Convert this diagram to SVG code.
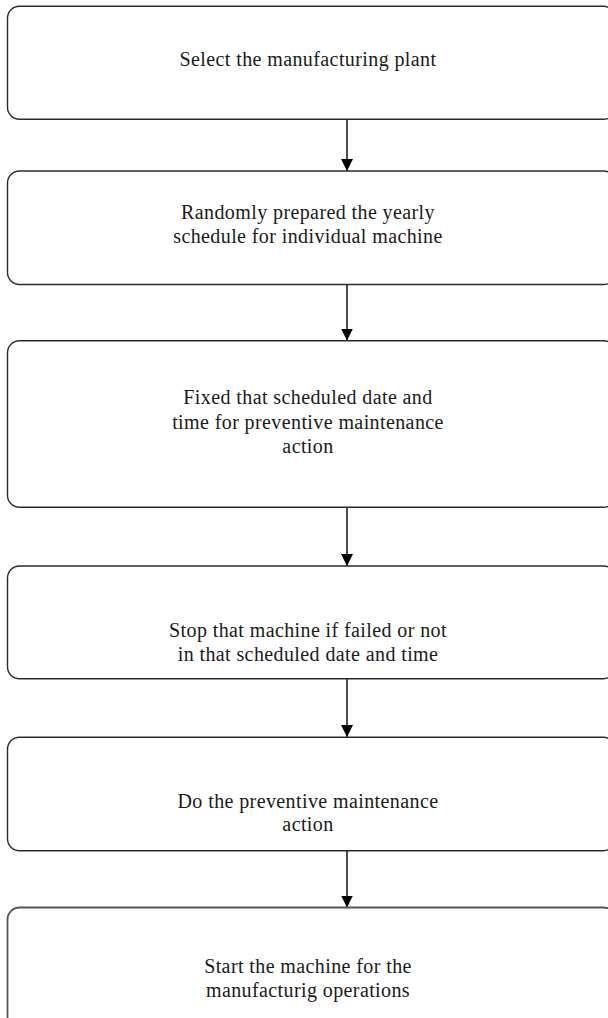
<svg xmlns="http://www.w3.org/2000/svg" width="608" height="1018" viewBox="0 0 608 1018">
  <style>
    .box { fill: #ffffff; stroke: #2b2b2b; stroke-width: 1.4; }
    .lbl { font-family: "Liberation Serif", "Times New Roman", serif; font-size: 20px; letter-spacing: 0.4px; fill: #1a1a1a; text-anchor: middle; }
    .conn { stroke: #000000; stroke-width: 1.4; fill: none; }
  </style>
  <defs>
    <marker id="arrow" markerUnits="userSpaceOnUse" markerWidth="14" markerHeight="12" refX="12" refY="6" orient="auto">
      <path d="M0,0 L12,6 L0,12 Z" fill="#000000"/>
    </marker>
  </defs>
  <rect width="608" height="1018" fill="#ffffff"/>

  <g id="connectors">
    <line class="conn" x1="347" y1="119.5" x2="347" y2="171" marker-end="url(#arrow)"/>
    <line class="conn" x1="347" y1="284.5" x2="347" y2="340.5" marker-end="url(#arrow)"/>
    <line class="conn" x1="347" y1="507.5" x2="347" y2="566" marker-end="url(#arrow)"/>
    <line class="conn" x1="347" y1="679" x2="347" y2="737" marker-end="url(#arrow)"/>
    <line class="conn" x1="347" y1="851" x2="347" y2="907.5" marker-end="url(#arrow)"/>
  </g>

  <g id="node-select-plant">
    <rect class="box" x="7.5" y="6.3" width="608" height="113" rx="12" ry="12"/>
    <text class="lbl" x="308" y="66">Select the manufacturing plant</text>
  </g>

  <g id="node-yearly-schedule">
    <rect class="box" x="7.5" y="171" width="608" height="113.5" rx="12" ry="12"/>
    <text class="lbl" x="308" y="219">Randomly prepared the yearly</text>
    <text class="lbl" x="308" y="243">schedule for individual machine</text>
  </g>

  <g id="node-fix-date">
    <rect class="box" x="7.5" y="340.7" width="608" height="166.6" rx="12" ry="12"/>
    <text class="lbl" x="308" y="404">Fixed that scheduled date and</text>
    <text class="lbl" x="308" y="428.5">time for preventive maintenance</text>
    <text class="lbl" x="308" y="453">action</text>
  </g>

  <g id="node-stop-machine">
    <rect class="box" x="7.5" y="566" width="608" height="112.7" rx="12" ry="12"/>
    <text class="lbl" x="308" y="637">Stop that machine if failed or not</text>
    <text class="lbl" x="308" y="661">in that scheduled date and time</text>
  </g>

  <g id="node-do-maintenance">
    <rect class="box" x="7.5" y="737.3" width="608" height="113.4" rx="12" ry="12"/>
    <text class="lbl" x="308" y="808">Do the preventive maintenance</text>
    <text class="lbl" x="308" y="831">action</text>
  </g>

  <g id="node-start-machine">
    <rect class="box" x="7.5" y="907.5" width="608" height="140" rx="12" ry="12" style="stroke:#555555; stroke-width:1.8"/>
    <text class="lbl" x="308" y="973">Start the machine for the</text>
    <text class="lbl" x="308" y="997">manufacturig operations</text>
  </g>
</svg>
